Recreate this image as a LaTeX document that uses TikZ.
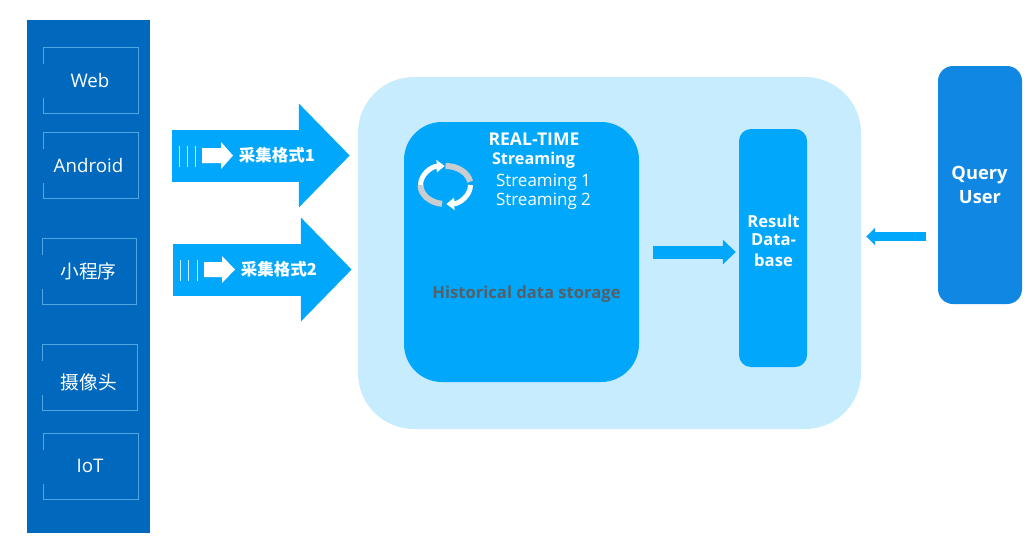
\documentclass[tikz,border=0pt]{standalone}
\usepackage{fontspec}
\usepackage{xcolor}
\usetikzlibrary{arrows.meta}
\setmainfont{Open Sans}
\newfontfamily\cjk{Noto Sans CJK SC}
\definecolor{panelblue}{HTML}{0068BD}
\definecolor{framelight}{HTML}{4FA6E3}
\definecolor{flowblue}{HTML}{00A7FB}
\definecolor{palesky}{HTML}{C6ECFE}
\definecolor{queryblue}{HTML}{0F87E3}
\definecolor{darktext}{HTML}{575F66}
\definecolor{loopgrey}{HTML}{C9CDD0}
\tikzset{
  block/.style={inner sep=0,minimum width=#1},
  srcframe/.style={draw=framelight,line width=0.8pt},
  srctext/.style={text=white,font=\fontsize{18.7}{19}\selectfont,inner sep=0},
  boldtext/.style={text=white,font=\fontsize{16.6}{17}\selectfont\bfseries,inner sep=0},
  bigflow/.style={draw=flowblue,line width=52pt,-{Triangle[length=51pt,width=101pt]}},
  formtext/.style={text=white,font=\cjk\fontsize{16.5}{17}\selectfont\bfseries,inner sep=0},
}
\begin{document}
\begin{tikzpicture}[x=1pt,y=-1pt]
\useasboundingbox (0,0) rectangle (1035,558);
% backgrounds
\node[block=123pt,minimum height=513pt,fill=panelblue] (panel) at (88.5,276.5) {};
\node[block=503pt,minimum height=352pt,fill=palesky,rounded corners=56pt] (outer) at (609.5,253) {};
\node[block=235pt,minimum height=260pt,fill=flowblue,rounded corners=38pt] (core) at (521.5,252) {};
\node[block=68pt,minimum height=238pt,fill=flowblue,rounded corners=12pt] (result) at (773,248) {};
\node[block=84pt,minimum height=238pt,fill=queryblue,rounded corners=15pt] (query) at (980,185) {};
% source boxes
\foreach \name/\cx/\cy/\boxw in {web/91/80.5/94,android/91/165.5/94,mini/89.5/271.5/93,camera/90/377.5/94,iot/91/466.5/94}{
  \node[block=\boxw pt,minimum height=65pt] (\name) at (\cx,\cy) {};
  \draw[srcframe] ([yshift=17pt]\name.west) -- (\name.north west) -- (\name.north east)
    -- (\name.south east) -- (\name.south west) -- ([yshift=-17pt]\name.west);
}
\node[srctext] (webtext) at (90,80) {Web};
\node[srctext] (androidtext) at (88.5,165) {Android};
\node[srctext] (minitext) at (88.5,271) {\cjk 小程序};
\node[srctext] (cameratext) at (89,382) {\cjk 摄像头};
\node[srctext] (iottext) at (90,466) {IoT};
% big arrows
\coordinate (flowa) at (0,155.5);
\coordinate (flowb) at (0,269.5);
\draw[bigflow,shorten <=22pt,shorten >=8pt] (panel.east |- flowa) -- (outer.west |- flowa);
\draw[bigflow,shorten <=23pt,shorten >=6pt] (panel.east |- flowb) -- (outer.west |- flowb);
\foreach \xa/\xb/\xc/\ya/\yb in {179/187/195/146/167,180/188/197/260/281}{
  \draw[white,line width=0.4pt,opacity=0.8] (\xa,\ya) -- (\xa,\yb) (\xb,\ya) -- (\xb,\yb) (\xc,\ya) -- (\xc,\yb);
}
\fill[white] (202,148) -- (221,148) -- (221,142) -- (233,155.5) -- (221,169) -- (221,163) -- (202,163) -- cycle;
\fill[white] (204,262) -- (222,262) -- (222,256) -- (235,269.5) -- (222,283) -- (222,277) -- (204,277) -- cycle;
\node[formtext] (forma) at (277,155) {采集格式1};
\node[formtext] (formb) at (279,269) {采集格式2};
% small arrows
\draw[draw=flowblue,line width=13pt,-{Triangle[length=13pt,width=24pt]},shorten <=14pt,shorten >=3pt]
  (core.east) -- (core.east -| result.west);
\coordinate (queryout) at (0,236.5);
\draw[draw=flowblue,line width=9pt,-{Triangle[length=9pt,width=17pt]},shorten <=12pt,shorten >=5pt]
  (query.west |- queryout) -- (outer.east |- queryout);
% loop icon
\draw[loopgrey,line width=6pt] (445.5,166) arc[start angle=90,end angle=10,x radius=25pt,y radius=19pt];
\draw[loopgrey,line width=6pt] (420.5,185) arc[start angle=180,end angle=262,x radius=25pt,y radius=19pt];
\draw[white,line width=5pt,-{Triangle[length=8pt,width=12pt]}] (420.5,185) arc[start angle=180,end angle=92,x radius=25pt,y radius=19pt];
\draw[white,line width=5pt,-{Triangle[length=8pt,width=12pt]}] (470.5,185) arc[start angle=0,end angle=-88,x radius=25pt,y radius=19pt];
% labels
\node[boldtext,font=\fontsize{17.6}{18}\selectfont\bfseries] (realtime) at (534,139.5) {REAL-TIME};
\node[boldtext,font=\fontsize{16.2}{17}\selectfont\bfseries] (streaming) at (533.5,160) {Streaming};
\node[srctext,font=\fontsize{17}{17}\selectfont] (streama) at (543.5,182) {Streaming 1};
\node[srctext,font=\fontsize{17}{17}\selectfont] (streamb) at (543.5,201) {Streaming 2};
\node[boldtext,text=darktext] (history) at (526.5,294) {Historical data storage};
\node[boldtext] (resa) at (773.5,221) {Result};
\node[boldtext] (resb) at (773.5,240) {Data-};
\node[boldtext] (resc) at (773.5,260) {base};
\node[boldtext,font=\fontsize{18.3}{18}\selectfont\bfseries] (querya) at (979.5,175) {Query};
\node[boldtext,font=\fontsize{18.3}{18}\selectfont\bfseries] (queryb) at (980,197) {User};
\end{tikzpicture}
\end{document}
